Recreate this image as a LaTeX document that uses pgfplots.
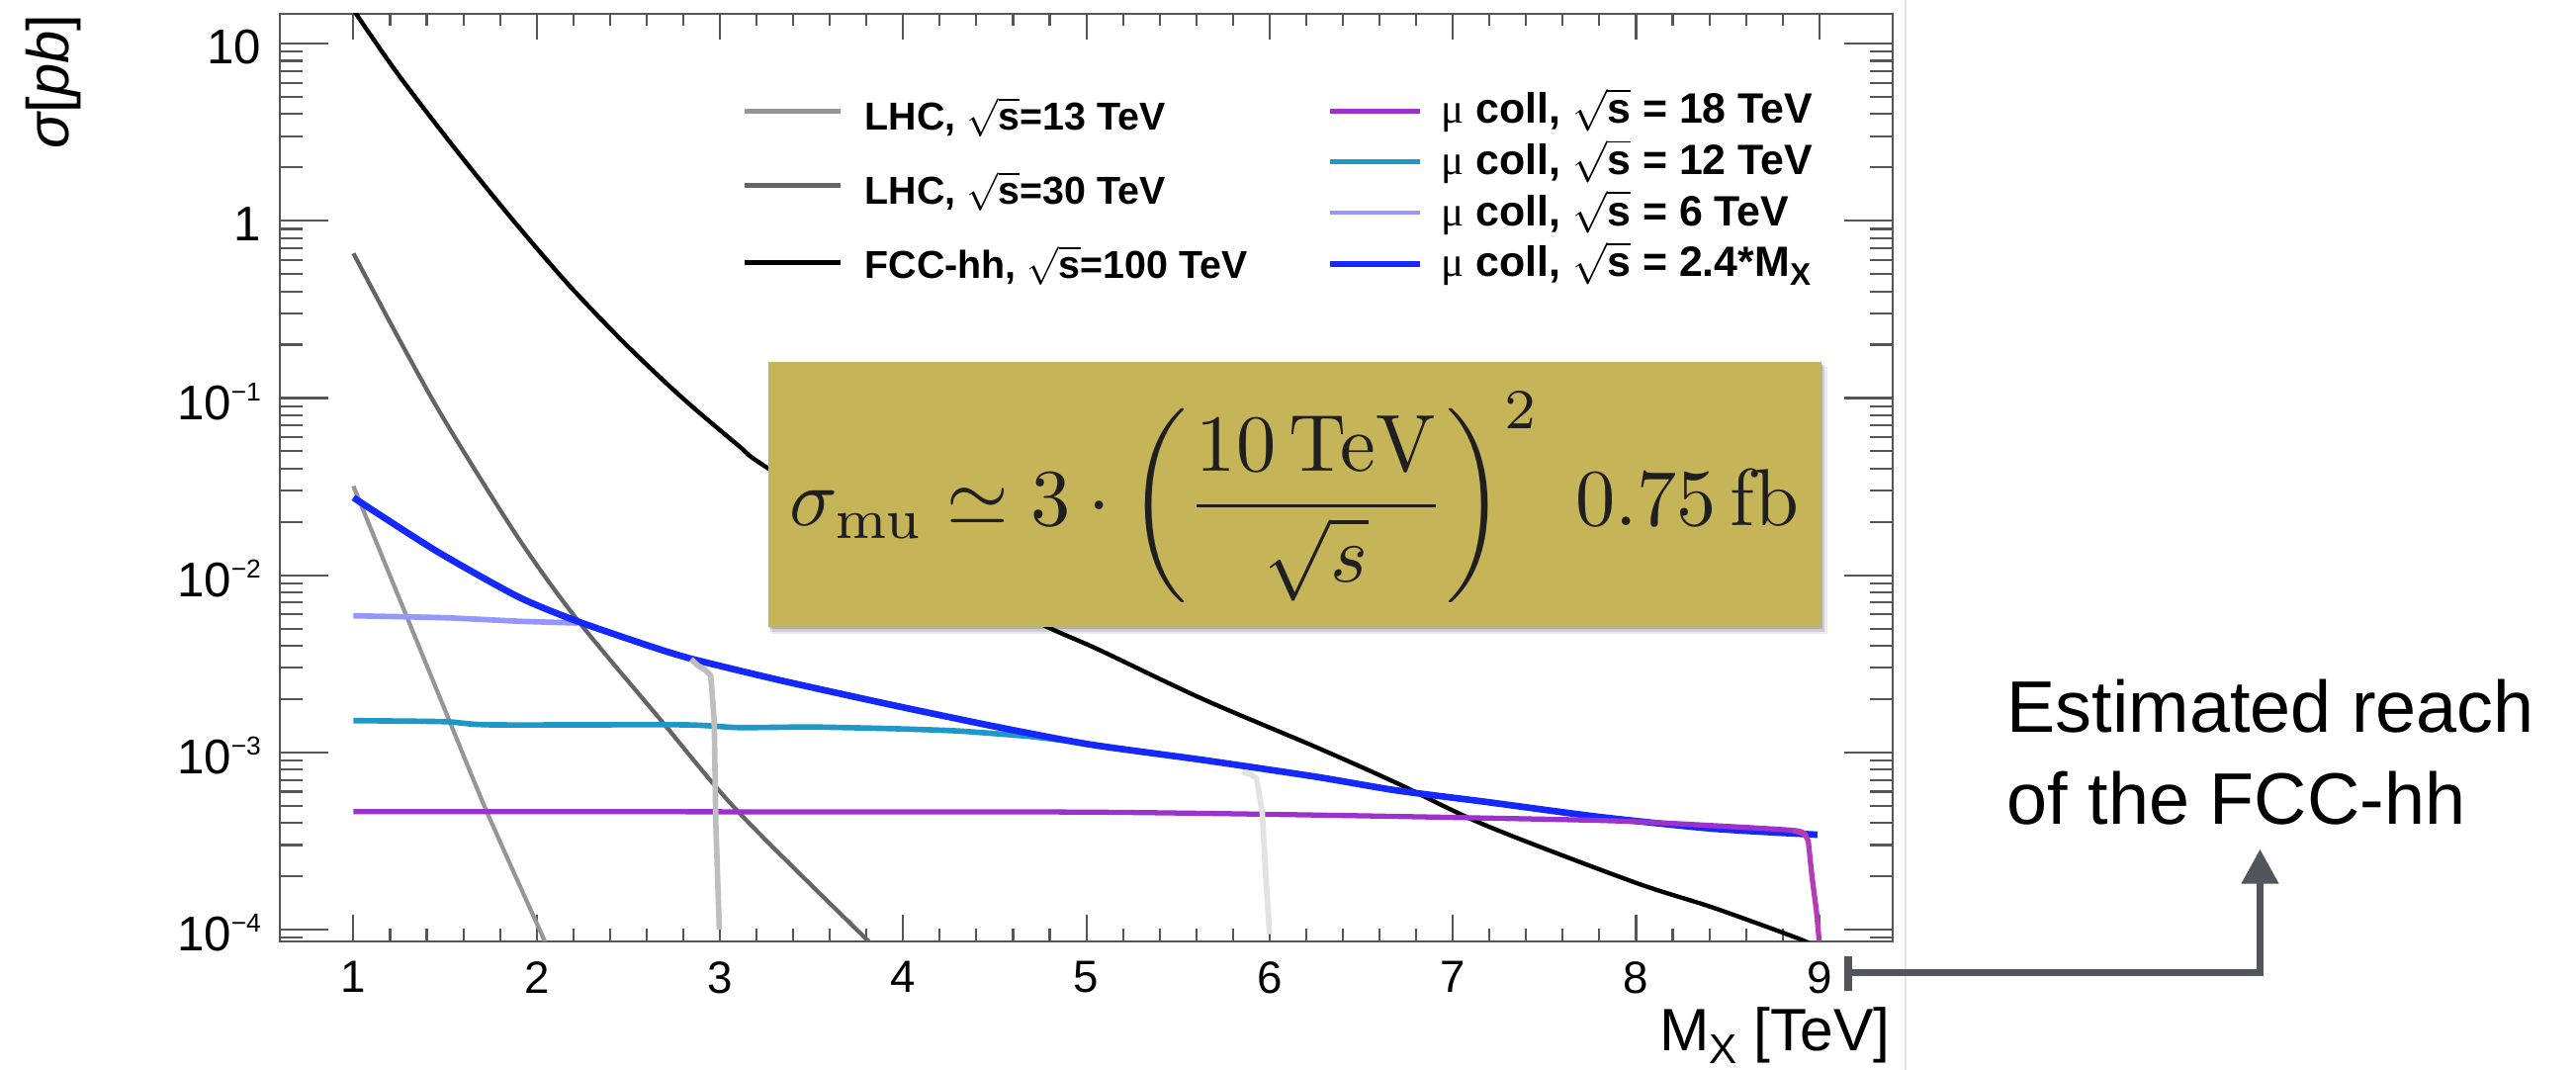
\documentclass[border=0pt]{standalone}
\usepackage[no-math]{fontspec}
\setmainfont{Liberation Sans}
\newfontfamily\symbfont{Liberation Serif}
\usepackage{graphicx}
\usepackage{pgfplots}
\usepackage{pgfplotstable}
\pgfplotsset{compat=1.18}
\usetikzlibrary{arrows.meta}

\definecolor{clhcA}{RGB}{150,150,150}
\definecolor{clhcB}{RGB}{100,100,100}
\definecolor{cmuA}{RGB}{155,50,205}
\definecolor{cmuAdrop}{RGB}{180,60,180}
\definecolor{cmuB}{RGB}{30,152,200}
\definecolor{cmuC}{RGB}{150,150,255}
\definecolor{cmuD}{RGB}{20,40,255}
\definecolor{cdropA}{RGB}{190,190,190}
\definecolor{cdropB}{RGB}{226,226,226}
\definecolor{cbox}{RGB}{197,180,88}
\definecolor{carrow}{RGB}{82,86,92}
\definecolor{cframe}{RGB}{85,85,85}

\newcommand{\tp}[1]{10\raisebox{5.5pt}{\fontsize{7.5}{8}\selectfont −#1}}

% LHC 13 TeV
\pgfplotstableread{
x y
1.000 0.0318
1.250 0.00741
1.519 0.00155
1.728 0.000462
2.043 0.0000865
2.070 0.0000750
}\tblLHCa
% LHC 30 TeV
\pgfplotstableread{
x y
1.000 0.655
1.250 0.214
1.500 0.0741
1.897 0.01637
2.221 0.00561
2.671 0.00155
3.100 0.000462
3.810 0.0000860
3.860 0.0000760
}\tblLHCb
% FCC-hh 100 TeV
\pgfplotstableread{
x y
1.000 15.5
1.240 6.79
1.550 2.59
1.860 1.04
2.170 0.4406
2.480 0.2037
2.790 0.1012
3.100 0.0540
3.250 0.0409
4.000 0.0135
4.730 0.00545
5.060 0.00383
5.635 0.0020
6.254 0.00107
6.687 0.000676
7.180 0.000387
7.990 0.000185
8.420 0.000133
8.885 0.0000891
8.950 0.0000820
}\tblFCC
% mu coll 2.4*MX
\pgfplotstableread{
x y
1.000 0.0274
1.447 0.0138
1.897 0.00757
2.221 0.0055
2.617 0.00398
2.851 0.00336
3.337 0.00254
3.930 0.00186
4.500 0.0014
5.015 0.00111
5.635 0.000906
6.254 0.000728
6.687 0.000611
7.183 0.000525
7.800 0.000432
8.420 0.000371
8.990 0.000343
}\tblMuD
% mu coll 6 TeV
\pgfplotstableread{
x y
1.000 0.0059
1.500 0.00575
1.897 0.0055
2.221 0.00537
}\tblMuC
% mu coll 12 TeV
\pgfplotstableread{
x y
1.000 0.00151
1.500 0.00149
1.750 0.00143
2.800 0.00143
3.100 0.00138
3.500 0.00139
3.950 0.00136
4.300 0.00132
4.690 0.00123
4.950 0.00114
}\tblMuB
% mu coll 18 TeV
\pgfplotstableread{
x y
1.000 0.000463
3.000 0.000462
5.000 0.000460
6.300 0.000442
7.800 0.000413
8.400 0.000387
8.855 0.000363
8.920 0.000347
}\tblMuA
\pgfplotstableread{
x y
8.855 0.000363
8.920 0.000347
8.940 0.000316
8.960 0.000200
8.985 0.000126
9.000 0.0000850
9.005 0.0000700
}\tblMuAdrop
% kinematic drop at 3 TeV
\pgfplotstableread{
x y
2.842 0.00336
2.880 0.00309
2.920 0.00292
2.950 0.00271
2.960 0.00200
2.969 0.00149
2.978 0.000389
2.997 0.000100
}\tblDropA
% kinematic drop at 6 TeV
\pgfplotstableread{
x y
5.851 0.000776
5.898 0.000750
5.929 0.000713
5.944 0.000573
5.960 0.000461
5.980 0.000193
6.000 0.0000942
}\tblDropB

\begin{document}
\begin{tikzpicture}
\useasboundingbox (0,0) rectangle (260.5mm,108.2mm);
\fill[white] (0,0) rectangle (260.5mm,108.2mm);

% main axis: data and x ticks
\begin{axis}[
  at={(28.33mm,13.03mm)}, anchor=south west,
  width=163.06mm, height=93.81mm, scale only axis,
  xmin=0.6, xmax=9.4, ymode=log, ymin=8.6e-5, ymax=14.8,
  axis line style={cframe, line width=0.6pt},
  xtick={1,2,3,4,5,6,7,8,9}, xticklabels={1,2,3,4,5,6,7,8,9},
  minor x tick num=4, tick align=inside,
  major tick length=2.67mm, minor tick length=1.23mm,
  tick style={cframe, line width=0.6pt},
  ytick=\empty, yminorticks=false,
  xticklabel style={font=\fontsize{13}{13}\selectfont, yshift=-0.8mm},
]
\addplot[clhcA, line width=1.2pt, smooth, tension=0.4] table {\tblLHCa};
\addplot[clhcB, line width=1.2pt, smooth, tension=0.5] table {\tblLHCb};
\addplot[black, line width=1.25pt, smooth, tension=0.5] table {\tblFCC};
\addplot[cmuC, line width=1.6pt, smooth, tension=0.4] table {\tblMuC};
\addplot[cmuB, line width=1.6pt, smooth, tension=0.4] table {\tblMuB};
\addplot[cmuD, line width=1.9pt, smooth, tension=0.4] table {\tblMuD};
\addplot[cmuA, line width=1.5pt, smooth, tension=0.4] table {\tblMuA};
\addplot[cmuAdrop, line width=1.5pt, line join=round] table {\tblMuAdrop};
\addplot[cdropA, line width=1.6pt, line join=round] table {\tblDropA};
\addplot[cdropB, line width=1.6pt, line join=round] table {\tblDropB};
% formula box with shadow
\fill[black, opacity=0.08] (axis cs:3.285,0.150) rectangle (axis cs:9.045,0.00465);
\fill[black, opacity=0.12] (axis cs:3.275,0.153) rectangle (axis cs:9.03,0.00480);
\fill[black, opacity=0.15] (axis cs:3.27,0.156) rectangle (axis cs:9.02,0.00495);
\fill[cbox] (axis cs:3.265,0.160) rectangle (axis cs:9.01,0.00513);
\node[text=black!88, inner sep=0pt] at (axis cs:6.135,0.0274)
  {\resizebox*{102mm}{21.3mm}{$\displaystyle\sigma_{\mathrm{mu}}\simeq 3\cdot\left(\frac{10\,\mathrm{TeV}}{\sqrt{s}}\right)^{2}\;0.75\,\mathrm{fb}$}};
\end{axis}

% overlay axis: y ticks
\begin{axis}[
  at={(28.33mm,13.03mm)}, anchor=south west,
  width=163.06mm, height=93.81mm, scale only axis,
  xmin=0.6, xmax=9.4, ymode=log, ymin=8.6e-5, ymax=14.8,
  axis line style={draw=none},
  xtick=\empty, xminorticks=false,
  ytick={1e-4,1e-3,1e-2,1e-1,1,10},
  yticklabels={\tp{4},\tp{3},\tp{2},\tp{1},1,10},
  minor ytick={9e-5,2e-4,3e-4,4e-4,5e-4,6e-4,7e-4,8e-4,9e-4,
    2e-3,3e-3,4e-3,5e-3,6e-3,7e-3,8e-3,9e-3,
    2e-2,3e-2,4e-2,5e-2,6e-2,7e-2,8e-2,9e-2,
    0.2,0.3,0.4,0.5,0.6,0.7,0.8,0.9,2,3,4,5,6,7,8,9},
  tick align=inside, major tick length=4.9mm, minor tick length=2.3mm,
  tick style={cframe, line width=0.6pt},
  yticklabel style={font=\fontsize{14}{14}\selectfont, xshift=-0.7mm, yshift=-0.35mm},
]
\end{axis}

% axis titles
\node[anchor=base east, inner sep=0pt, font=\fontsize{17.2}{17}\selectfont] at (191.2mm,1.95mm)
  {M\raisebox{-1.3mm}{\fontsize{12}{12}\selectfont X} [TeV]};
\node[rotate=90, anchor=east, inner sep=0pt, font=\fontsize{17}{17}\selectfont] at (5.4mm,106.8mm)
  {\itshape σ\upshape[\itshape pb\upshape]};

% legend
\begin{scope}[line width=1.4pt]
\draw[clhcA] (75.33mm,96.97mm) -- (85.0mm,96.97mm);
\draw[clhcB] (75.33mm,89.47mm) -- (85.0mm,89.47mm);
\draw[black] (75.33mm,81.63mm) -- (85.0mm,81.63mm);
\draw[cmuA] (134.49mm,96.98mm) -- (143.55mm,96.98mm);
\draw[cmuB] (134.49mm,91.84mm) -- (143.55mm,91.84mm);
\draw[cmuC] (134.49mm,86.70mm) -- (143.55mm,86.70mm);
\draw[cmuD, line width=1.7pt] (134.49mm,81.53mm) -- (143.55mm,81.53mm);
\end{scope}
\begin{scope}[every node/.style={anchor=base west, inner sep=0pt}]
\node[font=\bfseries\fontsize{11.2}{13}\selectfont] at (87.4mm,95.03mm) {LHC, \(\sqrt{\mbox{s}}\)=13 TeV};
\node[font=\bfseries\fontsize{11.2}{13}\selectfont] at (87.4mm,87.53mm) {LHC, \(\sqrt{\mbox{s}}\)=30 TeV};
\node[font=\bfseries\fontsize{11.2}{13}\selectfont] at (87.4mm,80.03mm) {FCC-hh, \(\sqrt{\mbox{s}}\)=100 TeV};
\node[font=\bfseries\fontsize{12.2}{14}\selectfont] at (145.7mm,95.70mm) {{\mdseries\symbfont μ} coll, \(\sqrt{\mbox{s}}\) = 18 TeV};
\node[font=\bfseries\fontsize{12.2}{14}\selectfont] at (145.7mm,90.53mm) {{\mdseries\symbfont μ} coll, \(\sqrt{\mbox{s}}\) = 12 TeV};
\node[font=\bfseries\fontsize{12.2}{14}\selectfont] at (145.7mm,85.37mm) {{\mdseries\symbfont μ} coll, \(\sqrt{\mbox{s}}\) = 6 TeV};
\node[font=\bfseries\fontsize{12.2}{14}\selectfont] at (145.7mm,80.20mm) {{\mdseries\symbfont μ} coll, \(\sqrt{\mbox{s}}\) = 2.4*M\raisebox{-0.9mm}{\fontsize{9}{9}\selectfont X}};
\end{scope}

% faint screenshot edge
\draw[black!10, line width=0.2mm] (192.7mm,0) -- (192.7mm,108.2mm);

% annotation
\draw[carrow, line width=0.77mm] (186.89mm,8.03mm) -- (186.89mm,11.53mm);
\draw[carrow, line width=0.75mm, line join=miter, -{Triangle[length=3.5mm,width=3.6mm]}]
  (186.89mm,9.87mm) -- (228.55mm,9.87mm) -- (228.55mm,22.34mm);
\node[anchor=base west, inner sep=0pt, font=\fontsize{21}{26}\selectfont] at (202.9mm,34.1mm) {Estimated reach};
\node[anchor=base west, inner sep=0pt, font=\fontsize{21}{26}\selectfont] at (202.9mm,24.83mm) {of the FCC-hh};
\end{tikzpicture}
\end{document}
